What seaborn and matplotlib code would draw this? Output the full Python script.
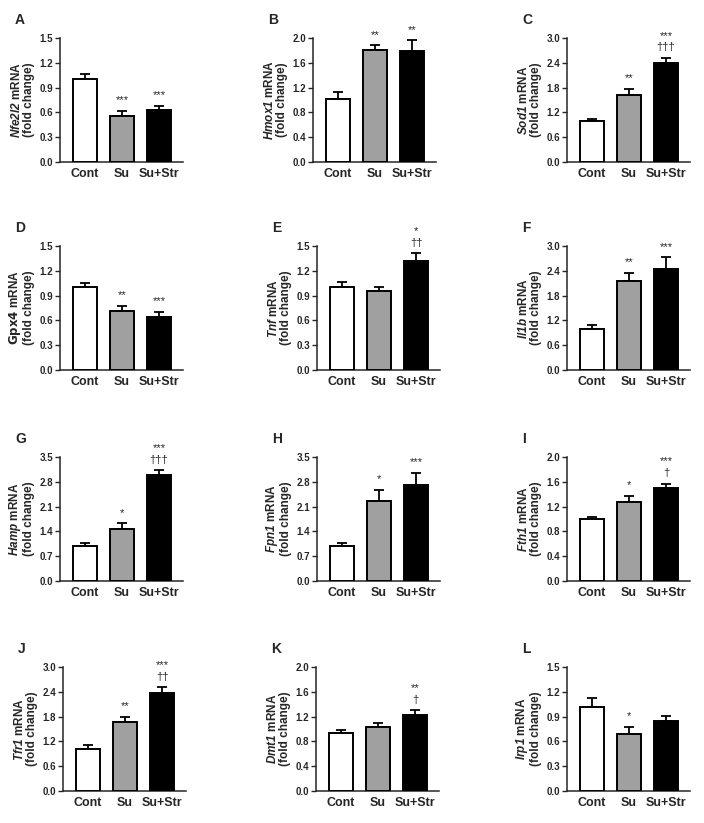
import pandas as pd
import matplotlib.pyplot as plt
import numpy as np
import seaborn as sns

# group labels and bar colours
groups = ["Cont", "Su", "Su+Str"]
colors = ["#ffffff", "#a0a0a0", "#000000"]

# panel letters, gene names, y-axis settings
letters = ["A", "B", "C", "D", "E", "F", "G", "H", "I", "J", "K", "L"]
genes = ["Nfe2l2", "Hmox1", "Sod1", "Gpx4", "Tnf", "Il1b",
         "Hamp", "Fpn1", "Fth1", "Tfr1", "Dmt1", "Irp1"]
ymax = [1.5, 2.0, 3.0, 1.5, 1.5, 3.0, 3.5, 3.5, 2.0, 3.0, 2.0, 1.5]
ystep = [0.3, 0.4, 0.6, 0.3, 0.3, 0.6, 0.7, 0.7, 0.4, 0.6, 0.4, 0.3]

# means (fold change) and SEM
means = [
    [1.00, 0.56, 0.63],
    [1.02, 1.80, 1.79],
    [0.99, 1.63, 2.39],
    [1.00, 0.71, 0.64],
    [1.00, 0.95, 1.32],
    [1.00, 2.16, 2.45],
    [0.99, 1.47, 2.98],
    [1.00, 2.27, 2.71],
    [1.00, 1.28, 1.50],
    [1.01, 1.67, 2.36],
    [0.94, 1.04, 1.22],
    [1.02, 0.69, 0.85],
]
sems = [
    [0.07, 0.06, 0.05],
    [0.11, 0.08, 0.17],
    [0.06, 0.14, 0.13],
    [0.05, 0.07, 0.06],
    [0.07, 0.06, 0.09],
    [0.10, 0.19, 0.28],
    [0.08, 0.16, 0.14],
    [0.08, 0.31, 0.34],
    [0.04, 0.09, 0.07],
    [0.10, 0.12, 0.15],
    [0.04, 0.05, 0.08],
    [0.10, 0.09, 0.06],
]
signif = [
    ["", "***", "***"],
    ["", "**", "**"],
    ["", "**", "***\n\u2020\u2020\u2020"],
    ["", "**", "***"],
    ["", "", "*\n\u2020\u2020"],
    ["", "**", "***"],
    ["", "*", "***\n\u2020\u2020\u2020"],
    ["", "*", "***"],
    ["", "*", "***\n\u2020"],
    ["", "**", "***\n\u2020\u2020"],
    ["", "", "**\n\u2020"],
    ["", "*", ""],
]

# axes boxes in pixels: left, top
W, H = 704, 823
tops = [38, 246, 457, 667]
lefts = [[60, 313, 567], [60, 317, 567], [60, 317, 567], [63, 316, 567]]
aw, ah = 123, 124

sns.set_style("ticks")
plt.rcParams["font.family"] = ["Liberation Sans", "DejaVu Sans"]
plt.rcParams["mathtext.fontset"] = "custom"
plt.rcParams["mathtext.bfit"] = "Liberation Sans:italic:bold"
plt.rcParams["mathtext.it"] = "Liberation Sans:italic"
plt.rcParams["mathtext.rm"] = "Liberation Sans"

fig = plt.figure(figsize=(W / 100, H / 100), dpi=100)

for i in range(12):
    r, c = divmod(i, 3)
    left = lefts[r][c]
    top = tops[r]
    ax = fig.add_axes([left / W, (H - top - ah) / H, aw / W, ah / H])

    df = pd.DataFrame({"group": groups, "value": means[i]})
    sns.barplot(data=df, x="group", y="value", hue="group", palette=colors,
                order=groups, hue_order=groups, edgecolor="black",
                linewidth=1.4, width=0.65, errorbar=None, legend=False,
                ax=ax, zorder=3)
    err = np.array(sems[i])
    ax.errorbar(range(3), means[i], yerr=[np.zeros(3), err], fmt="none",
                ecolor="black", elinewidth=1.3, capsize=3.5, capthick=1.3,
                zorder=2)

    for j in range(3):
        if signif[i][j]:
            ax.annotate(signif[i][j], (j, means[i][j] + err[j]),
                        xytext=(0, 4), textcoords="offset points",
                        ha="center", va="bottom", fontsize=8,
                        linespacing=1.2, annotation_clip=False)

    ax.set_xlim(-0.68, 2.65)
    ax.set_ylim(0, ymax[i])
    ax.set_yticks(np.round(np.arange(0, ymax[i] + 1e-6, ystep[i]), 2))
    ax.yaxis.set_major_formatter(plt.FormatStrFormatter("%.1f"))
    ax.tick_params(axis="y", length=3.5, width=1.0, labelsize=7, pad=1.5)
    ax.tick_params(axis="x", length=0, labelsize=9, pad=4)
    for lab in ax.get_xticklabels() + ax.get_yticklabels():
        lab.set_fontweight("bold")
    sns.despine(ax=ax)
    ax.spines["left"].set_linewidth(1.1)
    ax.spines["bottom"].set_linewidth(1.1)

    if genes[i] == "Gpx4":
        gene_txt = r"$\mathbf{Gpx4}$"
    else:
        gene_txt = r"$\mathbfit{" + genes[i] + "}$"
    ax.set_xlabel("")
    ax.set_ylabel(gene_txt + " mRNA\n(fold change)", fontsize=8.5,
                  fontweight="bold", labelpad=3, linespacing=1.0)

    ax.text(-45 / aw, 1 + 18 / ah, letters[i], transform=ax.transAxes,
            fontsize=10, fontweight="bold", ha="left", va="center")

fig.savefig("out.png", dpi=100, facecolor="white")
